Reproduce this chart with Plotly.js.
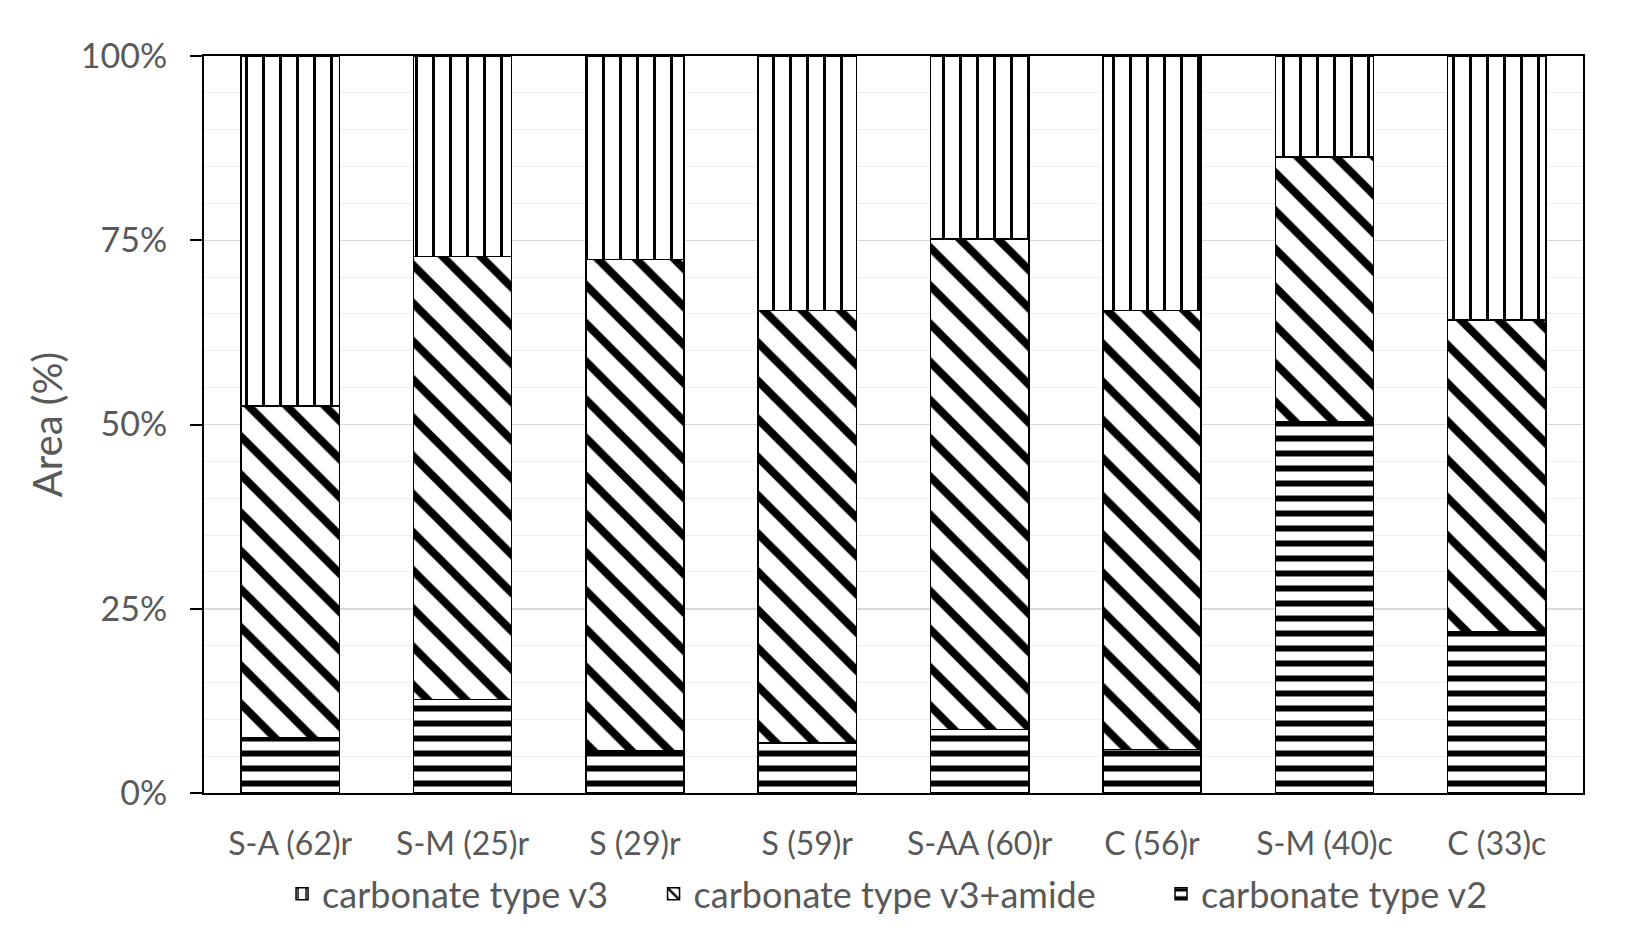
<!DOCTYPE html>
<html>
<head>
<meta charset="utf-8">
<script src="https://cdn.plot.ly/plotly-3.0.1.min.js"></script>
<style>
  html, body { margin: 0; padding: 0; background: #fff; }
  #chart { width: 1634px; height: 930px; }
</style>
</head>
<body>
<div id="chart"></div>
<script>
var samples = ['S-A (62)r', 'S-M (25)r', 'S (29)r', 'S (59)r', 'S-AA (60)r', 'C (56)r', 'S-M (40)c', 'C (33)c'];
var v2 = [7.5, 12.7, 5.8, 6.8, 8.6, 5.9, 50.4, 21.9];
var v3amide = [45.0, 60.1, 66.6, 58.7, 66.6, 59.6, 35.9, 42.3];
var v3 = [47.5, 27.2, 27.6, 34.5, 24.8, 34.5, 13.7, 35.8];

var txtGray = '#595959';

function barTrace(name, vals, shape, size, solidity, legendId) {
  return {
    type: 'bar',
    name: name,
    x: samples,
    y: vals,
    legend: legendId,
    marker: {
      color: 'white',
      line: { color: 'black', width: 1.5 },
      pattern: { shape: shape, fgcolor: 'black', fgopacity: 1, bgcolor: 'white', size: size, solidity: solidity, fillmode: 'replace' }
    },
    hoverinfo: 'x+y+name'
  };
}

var data = [
  barTrace('carbonate type v2', v2, '-', 15, 0.4, 'legend3'),
  barTrace('carbonate type v3+amide', v3amide, '\\', 27, 0.3, 'legend2'),
  barTrace('carbonate type v3', v3, '|', 17, 0.18, 'legend')
];

// one legend per series so each entry sits where the original has it
function legendAt(x) {
  return {
    orientation: 'h',
    x: x, xanchor: 'left',
    y: -0.137, yanchor: 'middle',
    font: { size: 36, color: txtGray },
    itemwidth: 30,
    bgcolor: 'rgba(0,0,0,0)'
  };
}

var layout = {
  width: 1634,
  height: 930,
  barmode: 'stack',
  bargap: 0.43,
  paper_bgcolor: 'white',
  plot_bgcolor: 'white',
  margin: { l: 204, r: 51, t: 56, b: 137, autoexpand: false },
  font: { family: 'Lato, "Open Sans", sans-serif', color: txtGray },
  xaxis: {
    showline: true, linecolor: 'black', linewidth: 2, mirror: true,
    ticks: '', tickfont: { size: 32, color: txtGray },
    ticklabelstandoff: 22,
    showgrid: false
  },
  yaxis: {
    range: [0, 100],
    dtick: 25,
    ticksuffix: '%',
    ticks: 'outside', ticklen: 12, tickwidth: 2, tickcolor: 'black',
    ticklabelstandoff: 16,
    showline: true, linecolor: 'black', linewidth: 2, mirror: true,
    tickfont: { size: 34, color: txtGray },
    gridcolor: '#d9d9d9', gridwidth: 1.5,
    minor: { dtick: 5, showgrid: true, gridcolor: '#efefef', gridwidth: 1 },
    zeroline: false,
    title: { text: 'Area (%)', font: { size: 40, color: txtGray }, standoff: 6 }
  },
  legend: legendAt(0.0566),
  legend2: legendAt(0.326),
  legend3: legendAt(0.694),
  showlegend: true
};

Plotly.newPlot('chart', data, layout, { displayModeBar: false, staticPlot: true });
</script>
</body>
</html>
